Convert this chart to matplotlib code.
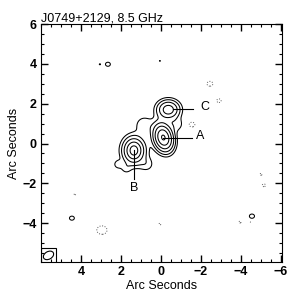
import numpy as np
import matplotlib.pyplot as plt
from matplotlib.patches import Ellipse, Rectangle

plt.rcParams['font.family'] = ['Liberation Sans', 'DejaVu Sans']

# source components: x, y (arcsec), peak, scale_x, scale_y, profile index, angle (deg)
comp_x = [-0.12, 1.35, -0.37]
comp_y = [0.30, -0.35, 1.70]
comp_peak = [1.10, 0.90, 0.40]
comp_hx = [0.30, 0.277, 0.387]
comp_hy = [0.44, 0.335, 0.33]
comp_k = [1.57, 1.24, 1.55]
comp_ang = [-15, 0, 0]

# faint diffuse patches (gaussian): x, y, peak, sigma
diff_x = [0.85, -0.80, 0.70, 2.15, 1.75]
diff_y = [0.95, 0.95, -1.05, -1.05, -1.25]
diff_peak = [0.05, 0.04, 0.04, 0.045, 0.035]
diff_s = [0.30, 0.25, 0.25, 0.15, 0.18]

# small noise blobs
noise_x = [3.05, 2.65, 0.05, -2.45, -2.90, -1.55, -5.00, -5.15, 4.30, 4.45, 2.95, 0.05, -3.95, -4.55, -4.45]
noise_y = [3.98, 3.98, 4.15, 3.00, 2.15, 0.95, -1.55, -2.10, -2.55, -3.75, -4.35, -4.05, -3.95, -3.65, -3.95]
noise_amp = [0.034, 0.05, 0.032, -0.05, -0.045, -0.05, -0.035, -0.04, -0.033, 0.05, -0.06, -0.035, -0.035, 0.06, -0.032]
noise_s = [0.05, 0.10, 0.06, 0.12, 0.10, 0.12, 0.08, 0.09, 0.07, 0.10, 0.18, 0.07, 0.08, 0.09, 0.06]

levels = [-0.03, 0.03, 0.06, 0.12, 0.24, 0.48, 0.96]

g = np.linspace(-6.2, 6.2, 621)
X, Y = np.meshgrid(g, g)
img = np.zeros_like(X)
for x0, y0, p, hx, hy, k, a in zip(comp_x, comp_y, comp_peak, comp_hx, comp_hy, comp_k, comp_ang):
    t = np.radians(a)
    dx, dy = X - x0, Y - y0
    u = dx * np.cos(t) + dy * np.sin(t)
    v = -dx * np.sin(t) + dy * np.cos(t)
    rho = np.sqrt((u / hx) ** 2 + (v / hy) ** 2)
    img += p * np.exp(-rho ** k)
for x0, y0, p, s in zip(diff_x, diff_y, diff_peak, diff_s):
    img += p * np.exp(-0.5 * ((X - x0) ** 2 + (Y - y0) ** 2) / s ** 2)
for x0, y0, p, s in zip(noise_x, noise_y, noise_amp, noise_s):
    img += p * np.exp(-0.5 * (((X - x0) / (s * 1.2)) ** 2 + ((Y - y0) / s) ** 2))

fig = plt.figure(figsize=(2.88, 2.97), dpi=100)
ax = fig.add_axes([0.142, 0.118, 0.837, 0.801])
ax.contour(X, Y, img, levels=[levels[0]], colors='0.35', linewidths=0.7, linestyles=':')
ax.contour(X, Y, img, levels=levels[1:], colors='k', linewidths=0.75, linestyles='-')

# labels
ax.plot([-0.6, -1.6], [1.75, 1.75], color='k', lw=0.8)
ax.text(-2.2, 1.82, 'C', fontsize=9, va='center', ha='center')
ax.plot([-0.1, -1.55], [0.27, 0.27], color='k', lw=0.8)
ax.text(-1.95, 0.4, 'A', fontsize=9, va='center', ha='center')
ax.plot([1.35, 1.35], [-0.35, -1.8], color='k', lw=0.8)
ax.text(1.35, -2.25, 'B', fontsize=9, va='center', ha='center')

# beam
ax.add_patch(Rectangle((5.25, -6), 0.75, 0.75, fill=False, ec='k', lw=0.8))
ax.add_patch(Ellipse((5.62, -5.62), 0.55, 0.38, angle=-30, fill=False, ec='k', lw=0.8))

ax.set_xlim(6, -6.05)
ax.set_ylim(-5.95, 5.95)
ax.set_xticks([4, 2, 0, -2, -4, -6])
ax.set_yticks([6, 4, 2, 0, -2, -4])
ax.set_xticks(np.arange(-6, 6.01, 0.5), minor=True)
ax.set_yticks(np.arange(-5.5, 6.01, 0.5), minor=True)
ax.tick_params(which='both', direction='in', top=True, right=True, labelsize=9, pad=3)
ax.tick_params(which='major', length=5, width=1)
ax.tick_params(which='minor', length=2.5, width=0.8)
for lab in ax.get_xticklabels() + ax.get_yticklabels():
    lab.set_fontweight('bold')
ax.set_xlabel('Arc Seconds', fontsize=9, labelpad=1)
ax.set_ylabel('Arc Seconds', fontsize=9, labelpad=2)
ax.set_title('J0749+2129, 8.5 GHz', fontsize=9, loc='left', pad=1)

fig.savefig('out.png', dpi=100)
